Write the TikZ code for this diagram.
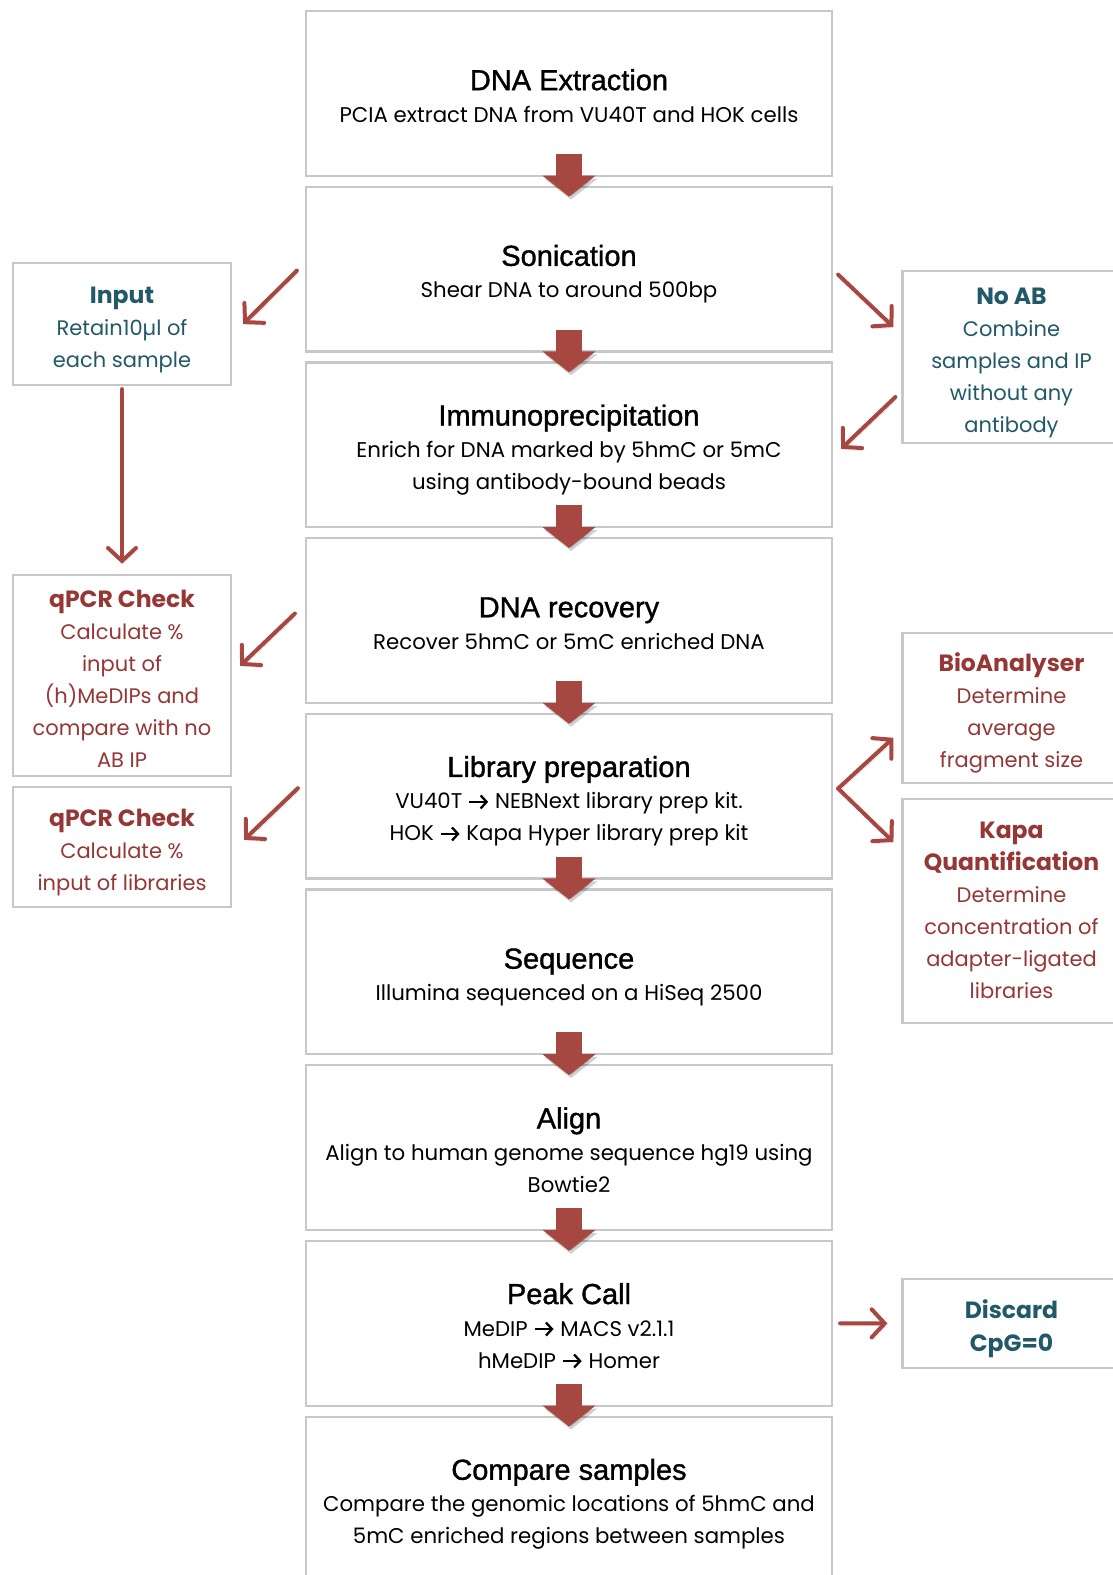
\documentclass[tikz,border=0pt]{standalone}
\usepackage{fontspec}
\setmainfont{Poppins}
\newfontfamily\headfont[FakeBold=1.2]{Liberation Sans}
\usetikzlibrary{arrows.meta,calc}

\definecolor{boxgray}{RGB}{200,200,200}
\definecolor{arrowred}{RGB}{166,72,65}
\definecolor{tealtext}{RGB}{33,89,104}
\definecolor{redtext}{RGB}{149,55,53}

% step titles in a grotesque face, side titles in bold;
% the struts keep every text block on the same vertical grid
\newcommand{\stephead}[1]{{\headfont\fontsize{29}{33}\selectfont\rule{0pt}{33pt}#1}}
\newcommand{\sidehead}[2][31pt]{{\bfseries\fontsize{23.5}{33}\selectfont\rule{0pt}{#1}#2}}
% bold open-headed arrow used inside the step texts
\newcommand{\yields}{\tikz[baseline=-0.33em]\draw[line width=2.3pt,
  -{Straight Barb[length=6pt,width=13pt]}] (0pt,0pt) -- (19pt,0pt);}

\tikzset{
  stepbox/.style={draw=boxgray, line width=2.2pt, fill=white,
    minimum width=526pt, minimum height=164.7pt, inner sep=0pt,
    align=center, font=\fontsize{21.3}{32}\selectfont,
    execute at end node={\rule[-7.5pt]{0pt}{7.5pt}}},
  sidebox/.style={draw=boxgray, line width=2.2pt, fill=white,
    minimum width=218pt, inner sep=0pt,
    align=center, font=\fontsize{21}{32}\selectfont,
    execute at end node={\rule[-7.6pt]{0pt}{7.6pt}}},
  tealside/.style={sidebox, text=tealtext},
  redside/.style={sidebox, text=redtext},
  flow/.style={line width=26pt, draw=arrowred,
    -{Triangle[length=21pt,width=52pt]},
    preaction={draw=black, opacity=0.18,
      transform canvas={shift={(2pt,-3pt)}}}},
  link/.style={line width=4pt, draw=arrowred, line cap=round,
    -{Straight Barb[length=13pt,width=28pt,line cap=round]},
    preaction={draw=black, opacity=0.15,
      transform canvas={shift={(1.5pt,-2.5pt)}}}}
}

\begin{document}
\begin{tikzpicture}[x=1pt,y=-1pt]
  \fill[white] (0,0) rectangle (1113,1575);
  \useasboundingbox (0,0) rectangle (1113,1575);

  % main pipeline
  \node[stepbox] (ext) at (569,93.4)
    {\stephead{DNA Extraction}\\PCIA extract DNA from VU40T and HOK cells};
  \node[stepbox] (son) at (569,269.1)
    {\stephead{Sonication}\\Shear DNA to around 500bp};
  \node[stepbox] (imm) at (569,444.8)
    {\stephead{Immunoprecipitation}\\Enrich for DNA marked by 5hmC or 5mC\\using antibody-bound beads};
  \node[stepbox] (rec) at (569,620.5)
    {\stephead{DNA recovery}\\Recover 5hmC or 5mC enriched DNA};
  \node[stepbox] (lib) at (569,796.2)
    {\stephead{Library preparation}\\VU40T \yields{} NEBNext library prep kit.\\HOK \yields{} Kapa Hyper library prep kit};
  \node[stepbox] (seq) at (569,971.9)
    {\stephead{Sequence}\\Illumina sequenced on a HiSeq 2500};
  \node[stepbox] (aln) at (569,1147.6)
    {\stephead{Align}\\Align to human genome sequence hg19 using\\Bowtie2};
  \node[stepbox] (pk) at (569,1323.3)
    {\stephead{Peak Call}\\MeDIP \yields{} MACS v2.1.1\\hMeDIP \yields{} Homer};
  \node[stepbox] (cmp) at (569,1499)
    {\stephead{Compare samples}\\Compare the genomic locations of 5hmC and\\5mC enriched regions between samples};

  % side checks, left column
  \node[tealside, minimum height=122pt] (inp) at (122,324)
    {\sidehead{Input}\\Retain10µl of\\each sample};
  \node[redside, minimum height=201pt] (q1) at (122,675.3)
    {\sidehead{qPCR Check}\\Calculate \%\\input of\\(h)MeDIPs and\\compare with no\\AB IP};
  \node[redside, minimum height=120pt] (q2) at (122,846.8)
    {\sidehead{qPCR Check}\\Calculate \%\\input of libraries};

  % side checks, right column
  \node[tealside, minimum height=172pt] (noab) at (1011.5,357)
    {\sidehead{No AB}\\Combine\\samples and IP\\without any\\antibody};
  \node[redside, minimum height=150pt] (bio) at (1011.5,707.8)
    {\sidehead{BioAnalyser}\\Determine\\average\\fragment size};
  \node[redside, minimum height=224pt] (kapa) at (1011.5,910.6)
    {\sidehead[23pt]{Kapa}\\\sidehead[0pt]{Quantification}\\Determine\\concentration of\\adapter-ligated\\libraries};
  \node[tealside, minimum height=89pt, font=\bfseries\fontsize{23.5}{33}\selectfont] (disc) at (1011.5,1323.4)
    {\rule{0pt}{31pt}Discard\\CpG=0};

  % block arrows between steps
  \foreach \a/\b in {ext/son, son/imm, imm/rec, rec/lib, lib/seq, seq/aln, aln/pk, pk/cmp}
    \draw[flow] ([yshift=23pt]\a.south) -- ([yshift=-11pt]\b.north);

  % side connectors
  \draw[link] ([shift={(-8,1.5)}]son.west) -- ([shift={(11,0)}]inp.east);
  \draw[link] ([shift={(5,5.5)}]son.east) -- ([shift={(-8,-30)}]noab.west);
  \draw[link] ([shift={(-6,40)}]noab.west) -- ([shift={(8,4)}]imm.east);
  \draw[link] ([shift={(0,3)}]inp.south) -- ([shift={(0,-10)}]q1.north);
  \draw[link] ([shift={(-10,-7)}]rec.west) -- ([shift={(8,-9.5)}]q1.east);
  \draw[link] ([shift={(-7,-8)}]lib.west) -- ([shift={(12,-7)}]q2.east);
  \coordinate (fork) at ([shift={(5,-7.7)}]lib.east);
  \draw[link] (fork) -- ([shift={(-8,30)}]bio.west);
  \draw[link] (fork) -- ([shift={(-8,-68.6)}]kapa.west);
  \draw[link] ([shift={(7,0)}]pk.east) -- ([shift={(-14,0)}]disc.west);
\end{tikzpicture}
\end{document}
